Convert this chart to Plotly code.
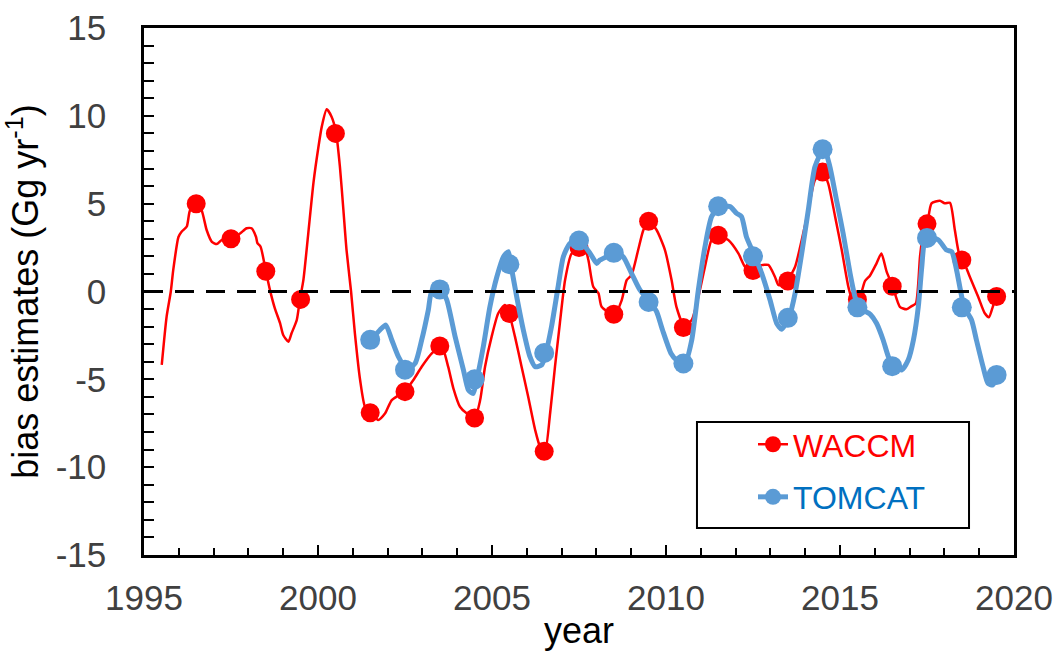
import plotly.graph_objects as go

# ---- data ----
waccm_line_x = [1995.51, 1995.65, 1995.77, 1995.84, 1995.99, 1996.08, 1996.23, 1996.32, 1996.51, 1996.66,
                1996.80, 1996.95, 1997.09, 1997.23, 1997.50, 1997.76, 1997.95, 1998.09, 1998.22, 1998.26,
                1998.35, 1998.50, 1998.62, 1998.76, 1998.91, 1999.00, 1999.15, 1999.24, 1999.39, 1999.48,
                1999.58, 1999.72, 1999.87, 2000.01, 2000.11, 2000.25, 2000.39, 2000.52, 2000.63, 2000.73,
                2000.82, 2000.95, 2001.06, 2001.21, 2001.35, 2001.52, 2001.73, 2001.93, 2002.12, 2002.50,
                2002.74, 2002.98, 2003.27, 2003.55, 2003.74, 2003.89, 2004.08, 2004.27, 2004.51, 2004.66,
                2004.80, 2004.99, 2005.18, 2005.37, 2005.50, 2005.66, 2005.85, 2006.04, 2006.24, 2006.38,
                2006.52, 2006.67, 2006.81, 2006.95, 2007.10, 2007.29, 2007.53, 2007.67, 2007.77, 2007.91,
                2008.06, 2008.15, 2008.52, 2008.73, 2008.87, 2009.01, 2009.20, 2009.35, 2009.51, 2009.73,
                2009.97, 2010.16, 2010.30, 2010.53, 2010.74, 2010.93, 2011.12, 2011.31, 2011.50, 2011.79,
                2012.08, 2012.27, 2012.49, 2012.70, 2012.94, 2013.13, 2013.23, 2013.37, 2013.49, 2013.71,
                2013.90, 2014.09, 2014.28, 2014.50, 2014.66, 2014.86, 2015.05, 2015.24, 2015.33, 2015.53,
                2015.72, 2015.86, 2016.05, 2016.19, 2016.34, 2016.51, 2016.72, 2016.91, 2017.06, 2017.18,
                2017.30, 2017.39, 2017.51, 2017.63, 2017.87, 2018.01, 2018.16, 2018.30, 2018.42, 2018.53,
                2018.73, 2018.97, 2019.16, 2019.28, 2019.39, 2019.48]
waccm_line_y = [-4.18, -1.43, 0.0, 1.22, 3.1, 3.4, 3.7, 4.6, 5.0, 4.6,
                3.5, 2.83, 2.7, 2.93, 3.0, 3.3, 3.6, 3.6, 3.1, 2.75,
                2.55, 1.17, 0.08, -0.96, -1.8, -2.48, -2.86, -2.38, -1.62, -0.45,
                0.65, 3.3, 6.2, 8.2, 9.4, 10.37, 9.95, 9.04, 7.1, 4.64,
                2.36, 0.0, -2.38, -5.04, -6.56, -6.9, -7.31, -6.93, -6.18, -5.67,
                -5.04, -4.28, -3.52, -3.1, -4.28, -5.51, -6.56, -6.93, -7.16, -6.18,
                -4.28, -2.57, -1.24, -0.77, -1.3, -2.57, -4.28, -5.99, -7.88, -8.83,
                -9.12, -6.93, -4.28, -1.81, 0.65, 2.17, 2.46, 2.46, 1.79, 0.27,
                -0.1, -0.87, -1.34, -0.48, 0.65, 0.94, 2.36, 3.5, 4.03, 3.5,
                2.36, 0.65, -0.87, -2.0, -1.62, -0.3, 1.41, 2.93, 3.15, 2.93,
                2.17, 1.41, 1.17, 1.47, 1.51, 0.84, 0.37, 0.37, 0.6, 1.41,
                2.93, 4.64, 6.35, 6.82, 6.16, 4.26, 2.36, 0.27, -0.3, -0.48,
                0.6, 0.9, 1.6, 2.17, 1.13, 0.31, -0.87, -1.01, -0.83, -0.67,
                2.0, 3.31, 3.88, 5.02, 5.17, 5.02, 5.05, 3.5, 2.17, 1.83,
                0.84, -0.3, -1.24, -1.47, -0.87, -0.3]

tomcat_line_x = [2001.54, 2001.78, 2001.95, 2002.12, 2002.31, 2002.55, 2002.79, 2002.98, 2003.17, 2003.27,
                 2003.53, 2003.70, 2003.94, 2004.18, 2004.32, 2004.46, 2004.56, 2004.75, 2004.94, 2005.14,
                 2005.33, 2005.47, 2005.54, 2005.71, 2005.90, 2006.09, 2006.24, 2006.43, 2006.55, 2006.71,
                 2006.90, 2007.05, 2007.24, 2007.51, 2007.82, 2008.01, 2008.10, 2008.29, 2008.53, 2008.77,
                 2009.01, 2009.25, 2009.54, 2009.73, 2009.90, 2010.15, 2010.30, 2010.55, 2010.74, 2010.93,
                 2011.12, 2011.31, 2011.55, 2011.84, 2012.03, 2012.17, 2012.31, 2012.55, 2012.75, 2012.99,
                 2013.18, 2013.32, 2013.42, 2013.54, 2013.71, 2013.90, 2014.09, 2014.28, 2014.54, 2014.71,
                 2014.90, 2015.09, 2015.29, 2015.43, 2015.55, 2015.87, 2016.05, 2016.24, 2016.39, 2016.55,
                 2016.77, 2016.96, 2017.11, 2017.25, 2017.35, 2017.44, 2017.57, 2017.83, 2018.06, 2018.21,
                 2018.35, 2018.57, 2018.78, 2018.92, 2019.11, 2019.25, 2019.39, 2019.55]
tomcat_line_y = [-2.72, -2.19, -1.91, -2.76, -3.71, -4.43, -4.09, -2.76, -1.05, 0.0,
                 0.12, -0.48, -2.57, -4.47, -5.6, -5.8, -5.04, -3.14, -0.87, 0.84,
                 1.98, 2.27, 1.55, -0.3, -2.19, -3.71, -4.28, -4.18, -3.48, -2.0,
                 0.27, 1.98, 2.74, 2.9, 2.17, 1.6, 1.79, 1.98, 2.23, 1.98,
                 1.03, 0.09, -0.58, -1.15, -2.19, -3.55, -3.9, -4.05, -2.76, 0.09,
                 2.55, 4.26, 4.85, 4.83, 4.45, 4.26, 3.12, 2.02, 1.03, -0.48,
                 -1.81, -2.15, -1.91, -1.47, -0.1, 2.17, 4.64, 7.1, 8.15, 7.1,
                 5.2, 3.31, 1.03, -0.3, -0.9, -1.3, -1.81, -2.76, -3.71, -4.24,
                 -4.47, -3.9, -2.76, -0.87, 1.41, 2.93, 3.08, 2.93, 2.36, 2.27,
                 1.22, -0.9, -1.62, -2.76, -4.28, -5.22, -5.32, -4.66]

waccm_mark_x = [1996.5, 1997.5, 1998.5, 1999.5, 2000.5, 2001.5, 2002.5, 2003.5, 2004.5, 2005.5,
                2006.5, 2007.5, 2008.5, 2009.5, 2010.5, 2011.5, 2012.5, 2013.5, 2014.5, 2015.5,
                2016.5, 2017.5, 2018.5, 2019.5]
waccm_mark_y = [5.0, 3.0, 1.15, -0.45, 9.0, -6.9, -5.7, -3.1, -7.2, -1.25,
                -9.1, 2.5, -1.3, 4.0, -2.05, 3.2, 1.2, 0.6, 6.8, -0.45,
                0.3, 3.85, 1.8, -0.28]

tomcat_mark_x = [2001.5, 2002.5, 2003.5, 2004.5, 2005.5, 2006.5, 2007.5, 2008.5, 2009.5, 2010.5,
                 2011.5, 2012.5, 2013.5, 2014.5, 2015.5, 2016.5, 2017.5, 2018.5, 2019.5]
tomcat_mark_y = [-2.75, -4.45, 0.12, -5.0, 1.55, -3.5, 2.9, 2.2, -0.6, -4.1,
                 4.85, 2.0, -1.5, 8.1, -0.9, -4.25, 3.05, -0.9, -4.75]

x_tickvals = [1995, 2000, 2005, 2010, 2015, 2020]
x_ticktext = ["1995", "2000", "2005", "2010", "2015", "2020"]
y_tickvals = [-15, -10, -5, 0, 5, 10, 15]
y_ticktext = ["-15", "-10", "-5", "0", "5", "10", "15"]

RED = "#FF0000"
BLUE = "#5B9BD5"
FONT = "Liberation Sans, Arial, sans-serif"

fig = go.Figure()

fig.add_trace(go.Scatter(x=waccm_line_x, y=waccm_line_y, mode="lines",
                         line=dict(color=RED, width=2.5, shape="spline", smoothing=0.6),
                         showlegend=False, legendgroup="w", hoverinfo="skip"))
fig.add_trace(go.Scatter(x=waccm_mark_x, y=waccm_mark_y, mode="markers",
                         marker=dict(color=RED, size=19, symbol="circle"),
                         showlegend=False, legendgroup="w"))
fig.add_trace(go.Scatter(x=tomcat_line_x, y=tomcat_line_y, mode="lines",
                         line=dict(color=BLUE, width=5, shape="spline", smoothing=0.6),
                         showlegend=False, legendgroup="t", hoverinfo="skip"))
fig.add_trace(go.Scatter(x=tomcat_mark_x, y=tomcat_mark_y, mode="markers",
                         marker=dict(color=BLUE, size=20, symbol="circle"),
                         showlegend=False, legendgroup="t"))

# legend entries
fig.add_trace(go.Scatter(x=[None], y=[None], mode="lines+markers",
                         name="<span style='color:#FF0000'>WACCM</span>",
                         line=dict(color=RED, width=2.5), marker=dict(color=RED, size=18),
                         legendgroup="w"))
fig.add_trace(go.Scatter(x=[None], y=[None], mode="lines+markers",
                         name="<span style='color:#0070C0'>TOMCAT</span>",
                         line=dict(color=BLUE, width=5), marker=dict(color=BLUE, size=18),
                         legendgroup="t"))

# zero reference line
fig.add_shape(type="line", xref="paper", x0=0, x1=1, yref="y", y0=0, y1=0,
              line=dict(color="black", width=3, dash="19px,12px"), layer="above")

# legend frame
fig.add_shape(type="rect", xref="paper", yref="paper",
              x0=0.6356, x1=0.9483, y0=0.0512, y1=0.2524,
              line=dict(color="black", width=2), fillcolor="rgba(0,0,0,0)", layer="above")

fig.update_layout(
    width=1058, height=651,
    margin=dict(l=144, r=44, t=28, b=96),
    paper_bgcolor="white", plot_bgcolor="white",
    font=dict(family=FONT, color="black"),
    showlegend=True,
    legend=dict(x=0.70, y=0.262, xanchor="left", yanchor="top",
                bgcolor="rgba(0,0,0,0)", borderwidth=0,
                font=dict(size=32, family=FONT),
                traceorder="grouped", tracegroupgap=8),
    xaxis=dict(range=[1995, 2020], tickmode="array", tickvals=x_tickvals, ticktext=x_ticktext,
               ticks="inside", ticklen=10, tickwidth=2, tickcolor="black",
               minor=dict(tickmode="linear", tick0=1995, dtick=1, ticks="inside", ticklen=7,
                          tickwidth=2, tickcolor="black"),
               showline=True, linecolor="black", linewidth=2.5, mirror=True,
               showgrid=False, zeroline=False,
               tickfont=dict(size=35, color="#404040", family=FONT),
               ticklabelstandoff=10,
               title=dict(text="year", font=dict(size=36, color="black", family=FONT), standoff=14),
               automargin=False),
    yaxis=dict(range=[-15, 15], tickmode="array", tickvals=y_tickvals, ticktext=y_ticktext,
               ticks="inside", ticklen=10, tickwidth=2, tickcolor="black",
               minor=dict(tickmode="linear", tick0=-15, dtick=1, ticks="inside", ticklen=10,
                          tickwidth=2, tickcolor="black"),
               showline=True, linecolor="black", linewidth=2.5, mirror=True,
               showgrid=False, zeroline=False,
               tickfont=dict(size=35, color="#404040", family=FONT),
               ticklabelstandoff=28,
               title=dict(text="bias estimates (Gg yr<sup>-1</sup>)",
                          font=dict(size=36, color="black", family=FONT), standoff=8),
               automargin=False),
)

fig.write_html("out.html")
